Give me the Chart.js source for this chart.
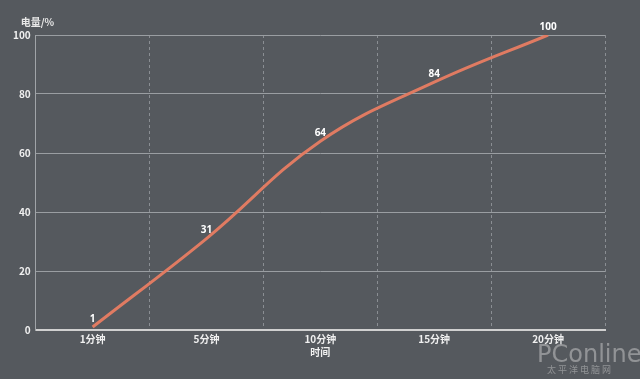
<!DOCTYPE html>
<html>
<head>
<meta charset="utf-8">
<script src="https://cdn.jsdelivr.net/npm/chart.js@4"></script>
<style>
  html, body { margin: 0; padding: 0; background: #55595e; }
  #wrap { width: 640px; height: 379px; }
</style>
</head>
<body>
<div id="wrap"><canvas id="chargeChart" width="640" height="379"></canvas></div>
<script>
// data
const categories = ['1分钟', '5分钟', '10分钟', '15分钟', '20分钟'];
const chargeValues = [1, 31, 64, 84, 100];
const yTicks = [0, 20, 40, 60, 80, 100];

const tickFont = { family: '"Noto Sans CJK SC", "Noto Sans", sans-serif', size: 10, weight: 'bold' };

// labels on points, axis title on the y side, watermark
const extraText = {
    id: 'extraText',
    afterDatasetsDraw(chart) {
        const ctx = chart.ctx;
        const area = chart.chartArea;
        ctx.save();
        ctx.fillStyle = '#ffffff';
        ctx.font = 'bold 10px "Noto Sans", sans-serif';
        ctx.textAlign = 'center';
        ctx.textBaseline = 'bottom';
        chart.getDatasetMeta(0).data.forEach((pt, i) => {
            ctx.fillText(String(chargeValues[i]), pt.x, pt.y - 3);
        });

        ctx.font = 'bold 10px "Noto Sans CJK SC", sans-serif';
        ctx.fillStyle = '#e8e8e8';
        ctx.textAlign = 'left';
        ctx.fillText('电量/%', area.left - 15, area.top - 8);

        // watermark
        ctx.fillStyle = 'rgba(205,205,205,0.5)';
        ctx.font = '24px "DejaVu Sans", sans-serif';
        ctx.textAlign = 'left';
        ctx.textBaseline = 'alphabetic';
        ctx.fillText('PConline', 537, 362);
        ctx.font = '9px "Noto Sans CJK SC", sans-serif';
        ctx.fillText('太 平 洋 电 脑 网', 547, 373);
        ctx.restore();
    }
};

new Chart(document.getElementById('chargeChart'), {
    type: 'line',
    data: {
        labels: categories,
        datasets: [{
            label: '电量',
            data: chargeValues,
            borderColor: '#e07b62',
            borderWidth: 3,
            pointRadius: 0,
            tension: 0.4,
            fill: false
        }]
    },
    options: {
        responsive: false,
        animation: false,
        layout: { padding: { top: 35, right: 35, left: 8, bottom: 21 } },
        plugins: {
            legend: { display: false },
            tooltip: { enabled: false }
        },
        scales: {
            x: {
                offset: true,
                grid: {
                    offset: true,
                    color: '#8a8e93',
                    drawTicks: false
                },
                border: { color: '#d0d0d0', width: 2, dash: [3, 3] },
                ticks: { color: '#f0f0f0', font: tickFont, padding: 3 },
                title: {
                    display: true,
                    text: '时间',
                    color: '#f0f0f0',
                    font: { family: '"Noto Sans CJK SC", sans-serif', size: 10, weight: 'bold' },
                    padding: { top: -2, bottom: 0 }
                }
            },
            y: {
                min: 0,
                max: 100,
                afterBuildTicks: axis => { axis.ticks = yTicks.map(v => ({ value: v })); },
                grid: { color: '#9a9ea2', drawTicks: false },
                border: { color: '#a0a4a8', width: 1 },
                ticks: { color: '#f0f0f0', font: tickFont, padding: 5 }
            }
        }
    },
    plugins: [extraText]
});
</script>
</body>
</html>
